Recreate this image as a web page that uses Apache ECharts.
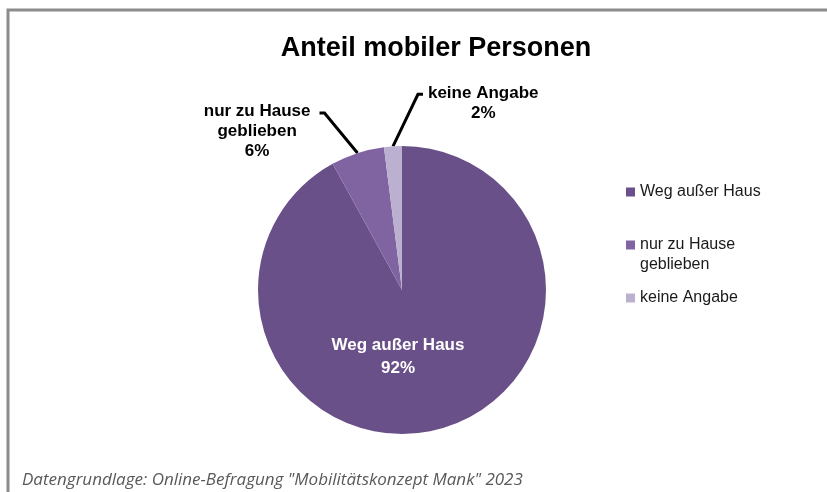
<!DOCTYPE html>
<html>
<head>
<meta charset="utf-8">
<script src="https://cdn.jsdelivr.net/npm/echarts@6/dist/echarts.min.js"></script>
<style>
  html, body { margin: 0; padding: 0; background: #fff; }
  #chart { width: 827px; height: 492px; }
</style>
</head>
<body>
<div id="chart"></div>
<script>
const categories = ['Weg außer Haus', 'nur zu Hause\ngeblieben', 'keine Angabe']
const shares = [92, 6, 2]
const colors = ['#6a5089', '#8064a2', '#bcb0d0']
const chartTitle = 'Anteil mobiler Personen'
const sourceNote = 'Datengrundlage: Online-Befragung "Mobilitätskonzept Mank" 2023'

const chart = echarts.init(document.getElementById('chart'))

const pieData = categories.map((name, i) => {
  const item = { name: name, value: shares[i], itemStyle: { color: colors[i] } }
  if (i === 0) {
    item.label = { position: 'inside', color: '#fff', lineHeight: 23 }
    item.labelLine = { show: false }
  }
  return item
})

chart.setOption({
  animation: false,
  title: [
    {
      text: chartTitle,
      left: 431,
      top: 30,
      textAlign: 'center',
      textStyle: { fontFamily: 'Liberation Sans', fontSize: 27, fontWeight: 'bold', color: '#000' }
    },
    {
      text: sourceNote,
      left: 22,
      top: 472,
      padding: 0,
      textStyle: { fontFamily: 'Open Sans', fontSize: 17, fontWeight: 'normal', fontStyle: 'italic', color: '#595959' }
    }
  ],
  graphic: [
    {
      type: 'rect',
      shape: { x: 8, y: 10, width: 840, height: 520 },
      style: { fill: 'none', stroke: '#8c8c8c', lineWidth: 3 },
      silent: true
    }
  ],
  legend: {
    orient: 'vertical',
    left: 626,
    top: 182,
    padding: 0,
    itemWidth: 9,
    itemHeight: 9,
    itemGap: 13,
    icon: 'rect',
    selectedMode: false,
    data: categories,
    // multi-line entry: empty first line so the marker sits on the first text line
    formatter: name => (name.indexOf('\n') >= 0 ? '\n' + name : name),
    textStyle: { fontFamily: 'Liberation Sans', fontSize: 16, lineHeight: 20, color: '#1a1a1a' }
  },
  series: [
    {
      type: 'pie',
      center: [402, 290],
      radius: 144,
      startAngle: 90,
      clockwise: true,
      avoidLabelOverlap: false,
      percentPrecision: 0,
      silent: true,
      data: pieData,
      label: {
        show: true,
        position: 'outside',
        formatter: '{b}\n{d}%',
        fontFamily: 'Liberation Sans',
        fontSize: 17,
        fontWeight: 'bold',
        lineHeight: 20,
        color: '#000',
        align: 'center'
      },
      labelLine: {
        show: true,
        length: 10,
        length2: 5,
        lineStyle: { color: '#000', width: 3 }
      },
      labelLayout: function (params) {
        const r = params.rect
        const w = params.labelRect.width
        if (params.dataIndex === 0) {
          return { x: r.x + r.width / 2 - 4, y: r.y + r.height * 0.732, align: 'center', verticalAlign: 'middle' }
        }
        const p0 = params.labelLinePoints[0]
        if (params.dataIndex === 1) {
          const p1 = [p0[0] - 33, p0[1] - 40]
          const p2 = [p1[0] - 5, p1[1]]
          return {
            x: p2[0] - 9 - w / 2, y: p2[1] + 18,
            align: 'center', verticalAlign: 'middle',
            labelLinePoints: [p0, p1, p2]
          }
        }
        const p1 = [p0[0] + 25, p0[1] - 52]
        const p2 = [p1[0] + 5, p1[1]]
        return {
          x: p2[0] + 5 + w / 2, y: p2[1] + 9,
          align: 'center', verticalAlign: 'middle',
          labelLinePoints: [p0, p1, p2]
        }
      }
    }
  ]
})
</script>
</body>
</html>
